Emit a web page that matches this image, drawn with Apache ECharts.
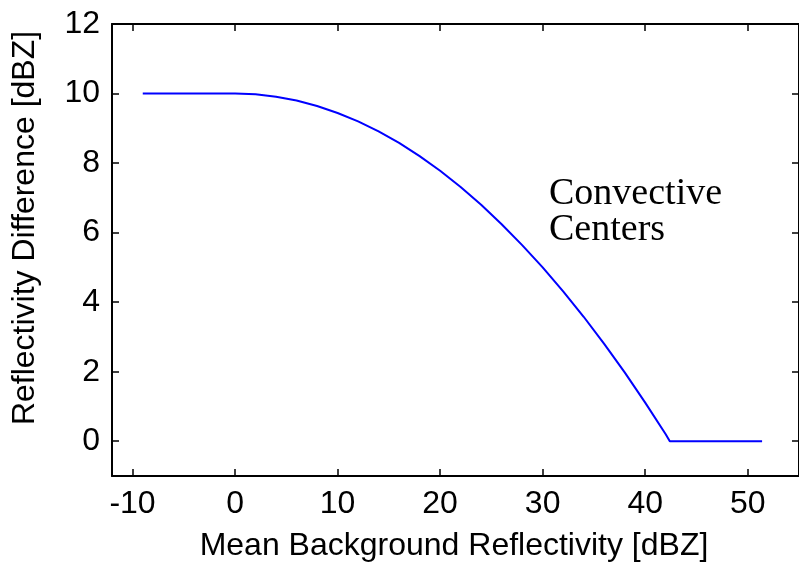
<!DOCTYPE html>
<html>
<head>
<meta charset="utf-8">
<script src="https://cdn.jsdelivr.net/npm/echarts@6/dist/echarts.min.js"></script>
<style>html,body{margin:0;padding:0;background:#fff;}#c{width:799px;height:567px;}</style>
</head>
<body>
<div id="c"></div>
<script>
// Mean background reflectivity [dBZ]
var bgRefl = [-9, 0, 2, 4, 6, 8, 10, 12, 14, 16, 18, 20, 22, 24, 26, 28, 30, 32, 34, 36, 38, 40, 42, 42.4, 51.4];
// Reflectivity difference [dBZ]
var reflDiff = [10, 10, 9.98, 9.91, 9.8, 9.64, 9.44, 9.2, 8.91, 8.58, 8.2, 7.78, 7.31, 6.8, 6.24, 5.64, 5.0, 4.31, 3.58, 2.8, 1.98, 1.11, 0.2, 0, 0];
var xTicks = [-10, 0, 10, 20, 30, 40, 50];
var yTicks = [0, 2, 4, 6, 8, 10, 12];
var xTitle = 'Mean Background Reflectivity [dBZ]';
var yTitle = 'Reflectivity Difference [dBZ]';
var noteText = 'Convective\nCenters';

var pts = bgRefl.map(function (v, i) { return [v, reflDiff[i]]; });
var axisFont = 'Liberation Sans, Arial, sans-serif';
var lineSt = { color: '#000', width: 2 };
function axLine() { return { show: true, onZero: false, lineStyle: lineSt }; }
var tickSt = { show: true, inside: true, length: 7, lineStyle: { color: '#000', width: 1.5 } };

var chart = echarts.init(document.getElementById('c'), null, { renderer: 'canvas' });
chart.setOption({
  backgroundColor: '#fff',
  animation: false,
  grid: { left: 112, top: 24, right: -3, bottom: 91, containLabel: false },
  xAxis: [{
    type: 'value', min: -12, max: 55, position: 'bottom',
    axisLine: axLine(),
    axisTick: Object.assign({ customValues: xTicks }, tickSt),
    axisLabel: { customValues: xTicks, margin: 12, color: '#000', fontSize: 32, fontFamily: axisFont },
    splitLine: { show: false }
  }, {
    type: 'value', min: -12, max: 55, position: 'top',
    axisLine: axLine(),
    axisTick: Object.assign({ customValues: xTicks }, tickSt),
    axisLabel: { show: false },
    splitLine: { show: false }
  }],
  yAxis: [{
    type: 'value', min: -1, max: 12, position: 'left',
    axisLine: axLine(),
    axisTick: Object.assign({ customValues: yTicks }, tickSt),
    axisLabel: { customValues: yTicks, margin: 12, color: '#000', fontSize: 32, fontFamily: axisFont },
    splitLine: { show: false }
  }, {
    type: 'value', min: -1, max: 12, position: 'right',
    axisLine: axLine(),
    axisTick: Object.assign({ customValues: yTicks }, tickSt),
    axisLabel: { show: false },
    splitLine: { show: false }
  }],
  series: [{
    type: 'line',
    data: pts,
    showSymbol: false,
    smooth: false,
    lineStyle: { color: '#0000ff', width: 2 },
    itemStyle: { color: '#0000ff' }
  }],
  graphic: [{
    type: 'text', x: 454, y: 546,
    style: { text: xTitle, align: 'center', verticalAlign: 'middle', fill: '#000', font: '32px ' + axisFont }
  }, {
    type: 'text', x: 25, y: 228, rotation: Math.PI / 2,
    style: { text: yTitle, align: 'center', verticalAlign: 'middle', fill: '#000', font: '32px ' + axisFont }
  }, {
    type: 'text', x: 549, y: 176,
    style: { text: noteText, align: 'left', verticalAlign: 'top', fill: '#000', font: '38px Liberation Serif, Times New Roman, serif', lineHeight: 36 }
  }]
});
</script>
</body>
</html>
